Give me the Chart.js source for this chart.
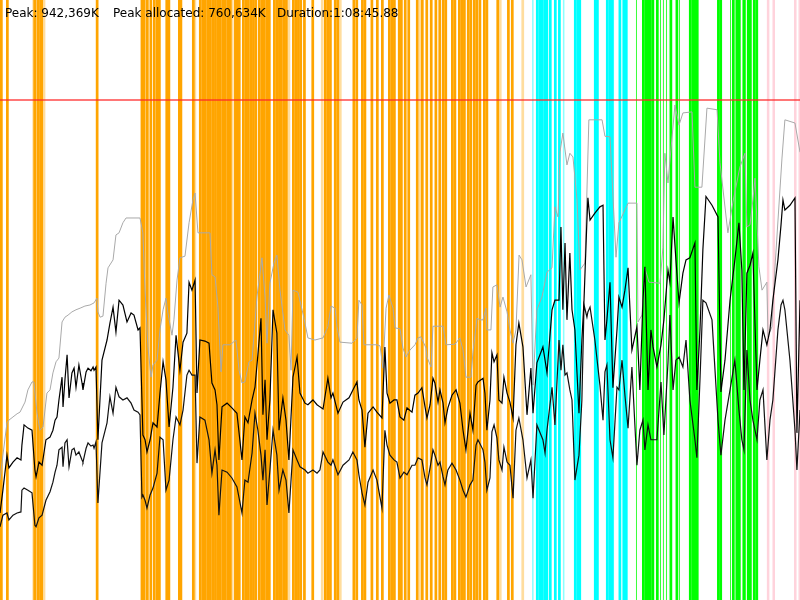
<!DOCTYPE html>
<html><head><meta charset="utf-8">
<script src="https://cdn.jsdelivr.net/npm/chart.js@4/dist/chart.umd.min.js"></script>
<style>html,body{margin:0;padding:0;background:#fff;overflow:hidden}</style>
</head><body>
<canvas id="c" width="800" height="600"></canvas>
<script>
// ---- summary values ----
const durationSec = 4125.88;
const peakK = 942369;
const peakAllocatedK = 760634;
const peakMB = 942.369;          // thousands of K

// ---- heap samples (seconds, thousands of K) ----
const sampleSec = [
0,15,36,46,67,88,108,113,124,144,
165,180,186,201,217,237,258,273,284,294,
304,320,325,335,346,356,371,382,392,407,
423,428,444,454,469,480,485,495,505,526,
552,567,583,598,614,634,655,676,691,712,
722,732,737,748,758,774,789,810,825,841,
856,872,892,908,928,944,964,975,990,1006,
1016,1031,1057,1078,1093,1109,1119,1129,1145,1171,
1196,1222,1248,1263,1279,1300,1315,1330,1346,1356,
1367,1377,1392,1408,1428,1439,1459,1475,1490,1511,
1532,1547,1573,1588,1614,1635,1650,1666,1691,1707,
1717,1743,1769,1800,1820,1841,1851,1867,1882,1898,
1924,1944,1970,1985,1996,2011,2032,2047,2063,2083,
2099,2125,2140,2156,2176,2192,2202,2218,2233,2243,
2259,2269,2285,2295,2310,2331,2352,2372,2388,2403,
2424,2439,2455,2465,2491,2501,2511,2527,2537,2548,
2563,2573,2589,2599,2615,2630,2646,2661,2676,2697,
2718,2738,2749,2769,2800,2811,2821,2847,2862,2883,
2893,2903,2914,2924,2939,2950,2965,2986,3001,3012,
3027,3032,3043,3068,3094,3110,3120,3130,3146,3161,
3182,3192,3208,3223,3239,3259,3285,3300,3316,3326,
3342,3357,3368,3388,3409,3424,3445,3455,3471,3486,
3502,3522,3538,3558,3584,3594,3610,3625,3641,3672,
3703,3718,3739,3765,3790,3811,3826,3837,3852,3868,
3883,3904,3919,3935,3955,3971,3986,4012,4028,4038,
4048,4074,4100,4110,4126];

const allocatedMB = [
164,207,273,249,260,268,264,292,330,324,
320,245,232,260,254,302,307,320,339,345,
377,420,364,415,462,381,428,437,401,443,
409,396,430,437,432,439,433,439,302,452,
490,522,552,505,565,556,524,541,537,509,
513,377,311,302,279,302,334,326,390,449,
415,326,401,499,433,486,503,599,584,603,
390,490,488,484,409,396,368,264,364,371,
362,352,264,345,334,377,401,462,531,349,
415,302,377,547,503,320,381,339,264,420,
458,390,371,368,377,368,364,360,418,381,
390,352,373,381,396,411,377,358,288,352,
364,354,343,477,390,371,377,377,345,339,
362,354,386,390,400,364,343,368,418,409,
373,396,371,334,362,386,396,371,320,283,
352,320,405,411,418,390,320,377,466,449,
462,377,371,420,390,373,343,481,522,477,
349,437,352,447,477,452,428,547,565,565,
703,547,673,528,654,547,509,352,490,565,
716,758,716,729,741,744,490,528,599,400,
509,571,552,584,626,471,515,396,565,628,
396,509,477,439,481,528,622,599,722,641,
560,616,641,645,673,396,509,660,760.6,744,
722,392,452,565,641,711,622,396,616,631,
654,396,452,509,481,509,565,641,707,754,
735,744,758,315,565];

const liveMB = [
138,160,164,151,160,164,166,207,211,207,
202,141,138,155,160,188,204,222,241,254,
283,288,251,296,302,251,283,286,273,279,
264,260,286,296,290,292,286,298,183,296,
334,383,352,401,383,377,381,371,358,354,
349,194,198,188,173,198,211,239,307,302,
207,226,302,345,330,358,424,433,424,424,
258,345,339,302,239,283,254,160,245,241,
230,213,164,226,222,277,352,320,273,226,
283,179,245,320,273,207,245,226,164,283,
264,251,245,239,245,239,245,279,260,254,
264,236,254,264,279,264,236,202,179,222,
245,226,173,320,292,273,264,260,230,241,
236,254,254,268,264,230,217,249,283,273,
254,260,232,217,245,258,245,226,207,194,
217,226,292,302,283,260,207,230,317,330,
305,264,245,288,260,254,192,320,343,302,
230,264,192,330,302,277,320,401,330,490,
433,481,424,428,396,377,226,273,377,556,
533,543,552,490,405,339,430,443,302,268,
401,396,452,386,324,439,254,320,339,283,
330,302,302,302,411,311,447,537,396,452,
458,439,490,377,302,268,415,565,560,528,
339,273,339,396,452,358,302,283,471,377,
339,302,377,396,264,339,377,509,556,565,
547,452,320,245,358];

const committedSec = [
0,15,36,46,67,88,103,129,144,165,
175,191,206,222,242,258,273,289,304,320,
335,351,371,392,413,438,464,485,500,505,
516,531,547,557,583,598,614,634,650,722,
737,748,763,779,789,810,825,841,856,866,
887,897,913,928,954,975,995,1006,1021,1083,
1093,1109,1124,1140,1150,1186,1217,1233,1248,1263,
1284,1300,1325,1351,1367,1377,1392,1413,1428,1444,
1470,1490,1501,1511,1537,1552,1568,1588,1624,1666,
1691,1707,1728,1738,1753,1815,1841,1851,1867,1877,
1944,1960,1975,1991,2006,2027,2037,2063,2078,2094,
2114,2140,2156,2171,2197,2202,2223,2233,2285,2300,
2346,2372,2388,2403,2429,2439,2460,2475,2491,2506,
2511,2532,2542,2563,2579,2594,2615,2630,2646,2661,
2677,2692,2713,2738,2749,2769,2795,2821,2847,2862,
2878,2888,2903,2924,2939,2955,2976,2991,3017,3037,
3105,3120,3146,3177,3192,3223,3239,3285,3290,3311,
3326,3347,3404,3419,3429,3445,3460,3481,3502,3522,
3569,3584,3620,3646,3698,3713,3754,3780,3816,3842,
3852,3868,3883,3894,3914,3930,3955,3961,3981,3997,
4033,4048,4100,4126];

const committedMB = [
226,273,334,339,345,351,354,373,396,411,
411,352,320,326,390,396,428,449,456,524,
533,537,543,547,550,554,556,560,569,543,
533,535,597,626,641,688,692,711,720,720,
692,584,477,420,443,452,509,547,569,541,
499,528,603,645,648,711,754,767,692,692,
613,609,552,430,481,481,490,433,409,411,
449,452,571,645,571,484,597,635,650,584,
509,499,433,584,580,556,531,494,490,494,
515,554,550,515,486,484,494,565,556,481,
481,479,437,550,575,550,513,511,475,458,
471,481,494,496,475,458,439,516,516,481,
482,494,471,420,420,466,531,528,528,550,
509,509,590,594,552,571,543,509,484,509,
650,641,590,613,405,547,571,618,626,741,
722,844,880,820,842,835,754,622,635,905,
905,874,873,646,711,735,748,748,524,537,
626,599,597,665,842,786,848,933,895,918,
920,778,778,927,924,825,692,750,816,842,
703,707,754,795,628,584,599,496,515,628,
833,905,899,844];

// ---- collector events (start, seconds) ----
const youngGcSec = [0,31,172,189,202,208,494,725,737,753,771,789,804,815,853,864,918,926,990,
1026,1039,1052,1065,1078,1091,1104,1116,1129,1142,1155,1168,1181,1207,1217,1227,1248,1261,1274,
1287,1300,1312,1330,1343,1356,1369,1382,1408,1421,1434,1444,1457,1470,1506,1519,1532,1544,1563,1606,
1671,1684,1697,1722,1735,1818,1833,1862,1875,1911,1939,1965,2001,2014,2027,2052,2063,2083,
2101,2145,2171,2194,2217,2241,2261,2279,2292,2326,2339,2362,2375,2388,2408,2421,2439,2452,
2468,2491,2504,2560,2615,2635];
const youngGcFaintSec = [167,184,220,998,1191,1483,1655,1748,2161,2573,2689];
const concurrentGcSec = [2764,2777,2790,2803,2813,2831,2857,2878,2960,2973,2983,3063,3074,3125,3138,3151,3190,3210,3223];
const concurrentFaintSec = [2744,2903,3159];
const mixedGcSec = [3311,3324,3334,3347,3360,3383,3453,3484,3553,3566,3579,3589,3698,3710,3775,3793,3806,3829,3852,3863,3883,3896];
const mixedThinSec = [3280,3404,3419,3435,3502,3765,3842];
const fullGcSec = [3955,3984,4095,4118];

// ---- build ----
const pts = (xs, ys) => xs.map((x, i) => ({x: x, y: ys[i]}));
const markStyles = [
  {times: youngGcFaintSec, color: 'rgba(255,165,0,0.38)', dur: 14},
  {times: youngGcSec, color: '#ffa500', dur: 14},
  {times: concurrentFaintSec, color: 'rgba(0,255,255,0.45)', dur: 8},
  {times: concurrentGcSec, color: '#00ffff', dur: 14},
  {times: mixedThinSec, color: 'rgba(0,255,0,0.8)', dur: 5},
  {times: mixedGcSec, color: '#00ff00', dur: 14},
  {times: fullGcSec, color: '#ffd3dc', dur: 13}
];

const gcMarks = {
  id: 'gcMarks',
  beforeDatasetsDraw(chart) {
    const {ctx, chartArea, scales} = chart;
    const xs = scales.x;
    ctx.save();
    markStyles.forEach(g => {
      ctx.fillStyle = g.color;
      g.times.forEach(t => {
        const a = xs.getPixelForValue(t);
        const b = xs.getPixelForValue(t + g.dur);
        ctx.fillRect(a, chartArea.top, b - a, chartArea.bottom - chartArea.top);
      });
    });
    ctx.restore();
  }
};

function fmtDuration(s) {
  const h = Math.floor(s / 3600);
  const m = Math.floor((s - h * 3600) / 60);
  const sec = s - h * 3600 - m * 60;
  return h + ':' + String(m).padStart(2, '0') + ':' + sec.toFixed(2).padStart(5, '0');
}

const header = {
  id: 'header',
  afterDraw(chart) {
    const ctx = chart.ctx;
    ctx.save();
    ctx.font = '12px "DejaVu Sans"';
    ctx.fillStyle = '#000';
    ctx.textBaseline = 'alphabetic';
    ctx.fillText('Peak: ' + peakK.toLocaleString('en-US') + 'K', 5, 16.5);
    ctx.fillText('Peak allocated: ' + peakAllocatedK.toLocaleString('en-US') + 'K', 113, 16.5);
    ctx.fillText('Duration:' + fmtDuration(durationSec), 277, 16.5);
    ctx.restore();
  }
};

new Chart(document.getElementById('c'), {
  type: 'line',
  data: {
    datasets: [
      {label: 'Peak', data: [{x: 0, y: peakMB}, {x: durationSec, y: peakMB}], borderColor: 'rgba(255,40,40,0.85)', borderWidth: 1.5, order: 0},
      {label: 'Allocated', data: pts(sampleSec, allocatedMB), borderColor: '#000', borderWidth: 1.2, order: 1},
      {label: 'Live', data: pts(sampleSec, liveMB), borderColor: '#111', borderWidth: 1.2, order: 2},
      {label: 'Committed', data: pts(committedSec, committedMB), borderColor: '#a9a9a9', borderWidth: 1, order: 3}
    ]
  },
  options: {
    responsive: false,
    animation: false,
    devicePixelRatio: 1,
    parsing: true,
    layout: {padding: 0},
    elements: {point: {radius: 0}, line: {tension: 0, fill: false}},
    scales: {
      x: {type: 'linear', min: 0, max: durationSec, display: false},
      y: {type: 'linear', min: 0, max: peakMB * 1.2, display: false}
    },
    plugins: {legend: {display: false}, tooltip: {enabled: false}, title: {display: false}}
  },
  plugins: [gcMarks, header]
});
</script>
</body></html>
